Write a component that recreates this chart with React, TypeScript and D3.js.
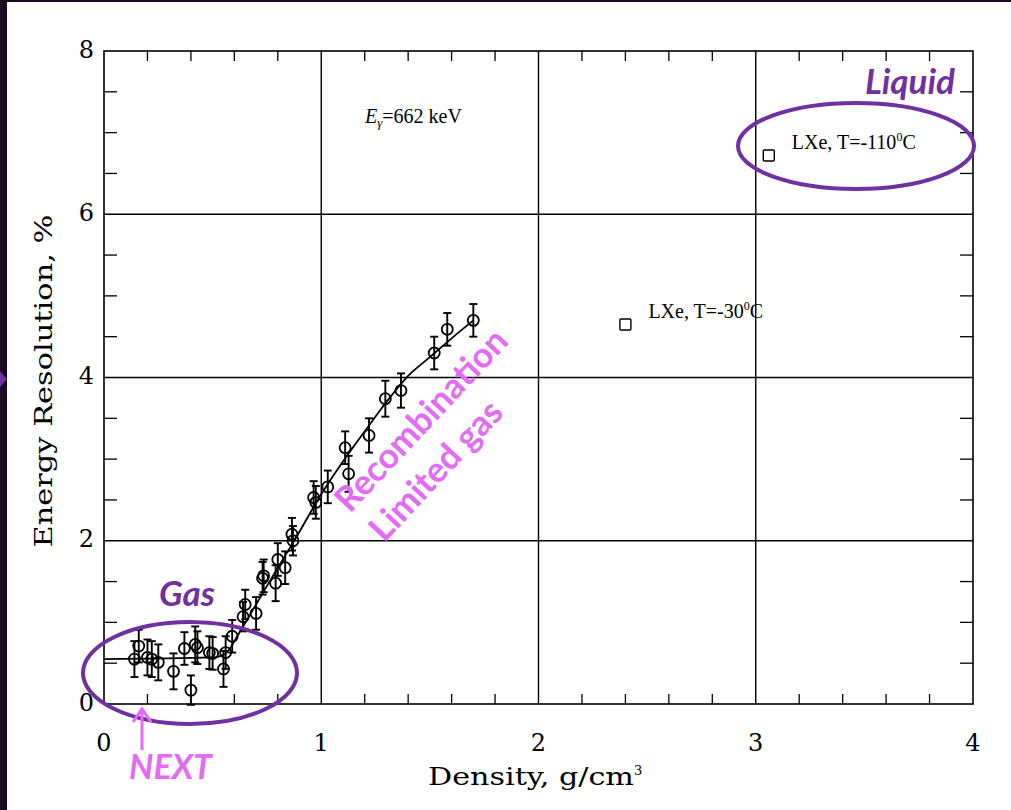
import React, { useEffect, useRef } from 'react';
import * as d3 from 'd3';

const W = 1011;
const H = 810;

// measured gas points: density (g/cm3), resolution (%), half error bar
const densities = [0.14, 0.16, 0.2, 0.22, 0.25, 0.32, 0.37, 0.4, 0.42, 0.43, 0.485, 0.5, 0.55, 0.56, 0.59, 0.64, 0.65, 0.7, 0.73, 0.735, 0.79, 0.8, 0.834, 0.865, 0.87, 0.965, 0.975, 1.03, 1.11, 1.126, 1.22, 1.295, 1.367, 1.52, 1.58, 1.7];
const resolutions = [0.55, 0.71, 0.57, 0.55, 0.51, 0.4, 0.68, 0.17, 0.73, 0.69, 0.63, 0.62, 0.43, 0.63, 0.83, 1.07, 1.22, 1.11, 1.54, 1.57, 1.48, 1.77, 1.67, 2.08, 2.0, 2.53, 2.47, 2.66, 3.14, 2.82, 3.29, 3.74, 3.84, 4.3, 4.59, 4.7];
const errors = [0.22, 0.2, 0.22, 0.22, 0.22, 0.22, 0.2, 0.18, 0.22, 0.2, 0.2, 0.2, 0.22, 0.2, 0.2, 0.18, 0.18, 0.2, 0.2, 0.2, 0.22, 0.2, 0.2, 0.2, 0.18, 0.2, 0.2, 0.2, 0.2, 0.22, 0.21, 0.22, 0.21, 0.2, 0.2, 0.2];

// fitted curve through the gas data
const fitX = [0, 0.5, 0.56, 0.62, 0.7, 0.8, 0.88, 1.0, 1.1, 1.2, 1.3, 1.4, 1.5, 1.6, 1.7];
const fitY = [0.55, 0.57, 0.62, 0.86, 1.22, 1.67, 2.02, 2.57, 2.97, 3.34, 3.7, 4.02, 4.25, 4.48, 4.7];

// liquid xenon points
const liquidX = [3.06, 2.4];
const liquidY = [6.72, 4.65];
const liquidLabels = ['LXe, T=-110', 'LXe, T=-30'];

const xTicks = [0, 1, 2, 3, 4];
const yTicks = [0, 2, 4, 6, 8];

const PURPLE = '#7030a0';
const PINK = '#e36bf6';
const SERIF = '"DejaVu Serif", serif';
const TIMES = '"Liberation Serif", serif';
const SANS = 'Lato, "Open Sans", sans-serif';

const App: React.FC = () => {
  const svgRef = useRef<SVGSVGElement>(null);

  useEffect(() => {
    if (!svgRef.current) return;
    const svg = d3.select(svgRef.current);
    svg.selectAll('*').remove();

    const margin = { top: 51, right: 38, bottom: 106, left: 104 };
    const innerWidth = W - margin.left - margin.right;
    const innerHeight = H - margin.top - margin.bottom;

    const xScale = d3.scaleLinear().domain([0, 4]).range([0, innerWidth]);
    const yScale = d3.scaleLinear().domain([0, 8]).range([innerHeight, 0]);

    // page background and dark frame of the slide
    svg.append('rect').attr('width', W).attr('height', H).attr('fill', '#fff');
    svg.append('rect').attr('width', 7).attr('height', H).attr('fill', '#1c0a20');
    svg.append('rect').attr('width', W).attr('height', 2).attr('fill', '#1c0a20');
    svg.append('polygon').attr('points', '0,371 7,379 0,387').attr('fill', PURPLE);

    const g = svg.append('g').attr('transform', `translate(${margin.left},${margin.top})`);

    // major grid lines
    [1, 2, 3].forEach(v => {
      g.append('line')
        .attr('x1', xScale(v)).attr('x2', xScale(v))
        .attr('y1', 0).attr('y2', innerHeight)
        .attr('stroke', '#000').attr('stroke-width', 1.4);
    });
    [2, 4, 6].forEach(v => {
      g.append('line')
        .attr('x1', 0).attr('x2', innerWidth)
        .attr('y1', yScale(v)).attr('y2', yScale(v))
        .attr('stroke', '#000').attr('stroke-width', 1.4);
    });

    // minor ticks on all four sides, pointing inward
    const xMinor = d3.range(0.2, 4, 0.2).filter(v => Math.abs(v - Math.round(v)) > 0.01);
    xMinor.forEach(v => {
      const x = xScale(v);
      g.append('line').attr('x1', x).attr('x2', x).attr('y1', 0).attr('y2', 10)
        .attr('stroke', '#000').attr('stroke-width', 1.3);
      g.append('line').attr('x1', x).attr('x2', x).attr('y1', innerHeight).attr('y2', innerHeight - 10)
        .attr('stroke', '#000').attr('stroke-width', 1.3);
    });
    const yMinor = d3.range(0.5, 8, 0.5).filter(v => Math.abs(v / 2 - Math.round(v / 2)) > 0.01);
    yMinor.forEach(v => {
      const y = yScale(v);
      g.append('line').attr('x1', 0).attr('x2', 13).attr('y1', y).attr('y2', y)
        .attr('stroke', '#000').attr('stroke-width', 1.3);
      g.append('line').attr('x1', innerWidth).attr('x2', innerWidth - 13).attr('y1', y).attr('y2', y)
        .attr('stroke', '#000').attr('stroke-width', 1.3);
    });

    // frame
    g.append('rect')
      .attr('width', innerWidth).attr('height', innerHeight)
      .attr('fill', 'none').attr('stroke', '#000').attr('stroke-width', 1.6);

    // tick labels
    xTicks.forEach(v => {
      g.append('text')
        .attr('x', xScale(v)).attr('y', innerHeight + 47)
        .attr('text-anchor', 'middle')
        .attr('font-family', SERIF).attr('font-size', '24px')
        .text(v);
    });
    yTicks.forEach(v => {
      g.append('text')
        .attr('x', -10).attr('y', yScale(v))
        .attr('text-anchor', 'end').attr('dominant-baseline', 'middle')
        .attr('font-family', SERIF).attr('font-size', '24px')
        .text(v);
    });

    // axis titles
    const xTitle = g.append('text')
      .attr('x', 324).attr('y', innerHeight + 81)
      .attr('font-family', SERIF).attr('font-size', '24px');
    xTitle.append('tspan').attr('textLength', 206).attr('lengthAdjust', 'spacingAndGlyphs').text('Density, g/cm');
    xTitle.append('tspan').attr('font-size', '13px').attr('dy', -10).text('3');

    g.append('text')
      .attr('transform', 'rotate(-90)')
      .attr('x', -330).attr('y', -52)
      .attr('text-anchor', 'middle')
      .attr('font-family', SERIF).attr('font-size', '25px')
      .attr('textLength', 333).attr('lengthAdjust', 'spacingAndGlyphs')
      .text('Energy Resolution, %');

    // fit curve
    const fit = fitX.map((x, i) => ({ x, y: fitY[i] }));
    const line = d3.line<{ x: number; y: number }>()
      .x(d => xScale(d.x))
      .y(d => yScale(d.y))
      .curve(d3.curveMonotoneX);
    g.append('path')
      .datum(fit)
      .attr('fill', 'none').attr('stroke', '#000').attr('stroke-width', 1.8)
      .attr('d', line);

    // gas points with error bars
    densities.forEach((d, i) => {
      const x = xScale(d);
      const y0 = yScale(resolutions[i] - errors[i]);
      const y1 = yScale(resolutions[i] + errors[i]);
      g.append('line').attr('x1', x).attr('x2', x).attr('y1', y0).attr('y2', y1)
        .attr('stroke', '#000').attr('stroke-width', 1.9);
      [y0, y1].forEach(yy => {
        g.append('line').attr('x1', x - 4).attr('x2', x + 4).attr('y1', yy).attr('y2', yy)
          .attr('stroke', '#000').attr('stroke-width', 1.9);
      });
      g.append('circle')
        .attr('cx', x).attr('cy', yScale(resolutions[i])).attr('r', 5.5)
        .attr('fill', 'none').attr('stroke', '#000').attr('stroke-width', 1.8);
    });

    // liquid points
    liquidX.forEach((d, i) => {
      const x = xScale(d);
      const y = yScale(liquidY[i]);
      g.append('rect')
        .attr('x', x - 5.5).attr('y', y - 5.5).attr('width', 11).attr('height', 11)
        .attr('rx', 1)
        .attr('fill', '#fff').attr('stroke', '#000').attr('stroke-width', 1.4);
      const t = g.append('text')
        .attr('x', x + 23).attr('y', y - 6)
        .attr('font-family', TIMES).attr('font-size', '20px');
      t.append('tspan').text(liquidLabels[i]);
      t.append('tspan').attr('font-size', '12px').attr('dy', -8).text('0');
      t.append('tspan').attr('dy', 8).text('C');
    });

    // photon energy label
    const e = g.append('text')
      .attr('x', 261).attr('y', 72)
      .attr('font-family', TIMES).attr('font-size', '20px');
    e.append('tspan').attr('font-style', 'italic').text('E');
    e.append('tspan').attr('font-style', 'italic').attr('font-size', '13px').attr('dy', 4).text('γ');
    e.append('tspan').attr('dy', -4).text('=662 keV');

    // slide annotations
    svg.append('ellipse')
      .attr('cx', 190).attr('cy', 673).attr('rx', 107).attr('ry', 51)
      .attr('fill', 'none').attr('stroke', PURPLE).attr('stroke-width', 4);
    svg.append('ellipse')
      .attr('cx', 856).attr('cy', 146).attr('rx', 118).attr('ry', 43)
      .attr('fill', 'none').attr('stroke', PURPLE).attr('stroke-width', 4);

    svg.append('text')
      .attr('x', 159).attr('y', 606)
      .attr('font-family', SANS).attr('font-size', '35px')
      .attr('font-weight', 'bold').attr('font-style', 'italic')
      .attr('fill', PURPLE)
      .text('Gas');
    svg.append('text')
      .attr('x', 865).attr('y', 94)
      .attr('font-family', SANS).attr('font-size', '35px')
      .attr('font-weight', 'bold').attr('font-style', 'italic')
      .attr('fill', PURPLE)
      .text('Liquid');

    const rec = svg.append('g').attr('transform', 'translate(350,514) rotate(-47)');
    rec.append('text')
      .attr('x', 0).attr('y', 0)
      .attr('font-family', SANS).attr('font-size', '35px').attr('font-weight', 'bold')
      .attr('fill', PINK)
      .text('Recombination');
    rec.append('text')
      .attr('x', 2).attr('y', 45)
      .attr('font-family', SANS).attr('font-size', '35px').attr('font-weight', 'bold')
      .attr('fill', PINK)
      .text('Limited gas');

    svg.append('text')
      .attr('x', 129).attr('y', 779)
      .attr('font-family', SANS).attr('font-size', '34px')
      .attr('font-weight', 'bold').attr('font-style', 'italic')
      .attr('fill', PINK)
      .text('NEXT');
    svg.append('path')
      .attr('d', 'M142,750 L142,709 M133,722 L142,709 L151,722')
      .attr('fill', 'none').attr('stroke', PINK).attr('stroke-width', 3);
  }, []);

  return (
    <div style={{ position: 'absolute', left: 0, top: 0 }}>
      <svg ref={svgRef} width={W} height={H} style={{ display: 'block' }} />
    </div>
  );
};

export default App;
